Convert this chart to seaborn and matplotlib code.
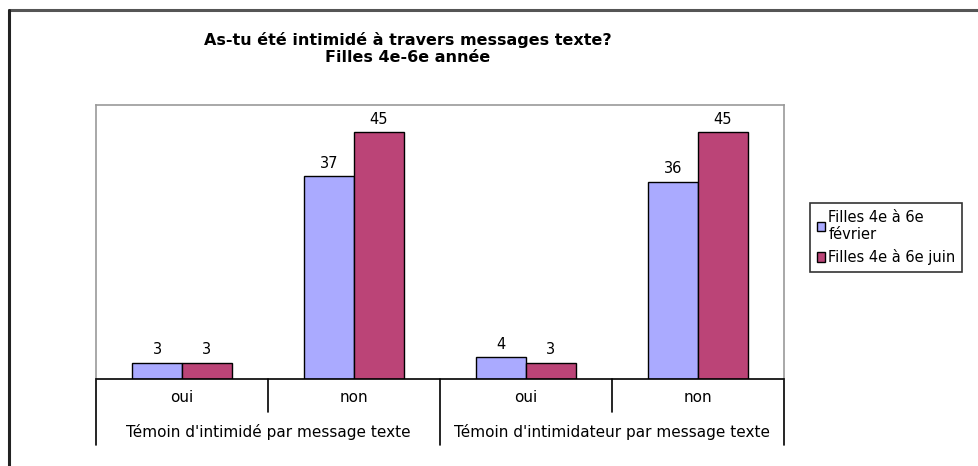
import matplotlib
matplotlib.use("Agg")
import matplotlib.pyplot as plt
from matplotlib.lines import Line2D
from matplotlib.patches import Patch
import seaborn as sns
import pandas as pd

groups = ["Témoin d'intimidé par message texte", "Témoin d'intimidateur par message texte"]
answers = ["oui", "non"]
series = ["Filles 4e à 6e février", "Filles 4e à 6e juin"]
legend_labels = ["Filles 4e à 6e\nfévrier", "Filles 4e à 6e juin"]
fevrier = [3, 37, 4, 36]
juin = [3, 45, 3, 45]
colors = ["#AAAAFF", "#BB4477"]

sns.set_theme(style="white")
plt.rcParams['font.family'] = ['DejaVu Sans']
plt.rcParams['text.color'] = 'black'

W, H = 979, 466
fig = plt.figure(figsize=(W / 100, H / 100), dpi=100)

def fx(px):
    return px / W

def fy(py):
    return 1 - py / H

L, R, T, B = 96, 784, 105, 379
ax = fig.add_axes([fx(L), fy(B), fx(R - L), (B - T) / H])

cats = [f"{g}|{a}" for g in groups for a in answers]
df = pd.DataFrame({
    "cat": cats * 2,
    "serie": [series[0]] * 4 + [series[1]] * 4,
    "val": fevrier + juin,
})
sns.barplot(data=df, x="cat", y="val", hue="serie", order=cats, hue_order=series,
            palette=colors, width=0.58, edgecolor="black", linewidth=1.0,
            saturation=1, ax=ax, legend=False)
for c in ax.containers:
    ax.bar_label(c, padding=4, fontsize=10.5, color="black")

ax.set_ylim(0, 50)
ax.set_xlim(-0.5, 3.5)
ax.set_xlabel("")
ax.set_ylabel("")
ax.set_xticks([])
ax.set_yticks([])
for s in ["top", "right", "left"]:
    ax.spines[s].set_color("#999999")
    ax.spines[s].set_linewidth(1.2)
ax.spines["bottom"].set_color("black")
ax.spines["bottom"].set_linewidth(1.2)

# category table below axis
tr = ax.transAxes
def ay(py):
    return (B - py) / (B - T)

lk = dict(color="black", lw=1.2, transform=tr, clip_on=False)
ax.plot([0, 0], [0, ay(445)], **lk)
ax.plot([1, 1], [0, ay(445)], **lk)
ax.plot([0.5, 0.5], [0, ay(445)], **lk)
ax.plot([0.25, 0.25], [0, ay(412)], **lk)
ax.plot([0.75, 0.75], [0, ay(412)], **lk)

for i, c in enumerate(cats):
    a = c.split("|")[1]
    ax.text((i + 0.5) / 4, ay(398), a, transform=tr, ha="center", va="center",
            fontsize=11, color="black")
for j, g in enumerate(groups):
    ax.text((j + 0.5) / 2, ay(432), g, transform=tr, ha="center", va="center",
            fontsize=11, color="black")

# title
fig.text(fx(408), fy(40), "As-tu été intimidé à travers messages texte?", ha="center", va="center",
         fontsize=11.5, fontweight="bold", color="black")
fig.text(fx(408), fy(57), "Filles 4e-6e année", ha="center", va="center",
         fontsize=11.5, fontweight="bold", color="black")

# legend
handles = [Patch(facecolor=colors[i], edgecolor="black", linewidth=1.0) for i in range(2)]
leg = fig.legend(handles, legend_labels, loc="upper left",
                 bbox_to_anchor=(fx(810), fy(203)), frameon=True, fancybox=False,
                 fontsize=10.5, handlelength=0.6, handleheight=0.6, handletextpad=0.2,
                 borderpad=0.45, labelspacing=0.5, borderaxespad=0, labelcolor="black")
leg.get_frame().set_edgecolor("black")
leg.get_frame().set_linewidth(1.2)

# outer frame
fig.add_artist(Line2D([fx(9), 1], [fy(10), fy(10)], color="#555555", lw=2.2, transform=fig.transFigure))
fig.add_artist(Line2D([fx(9), fx(9)], [0, fy(10)], color="#222222", lw=2.2, transform=fig.transFigure))

fig.savefig("out.png", dpi=100)
